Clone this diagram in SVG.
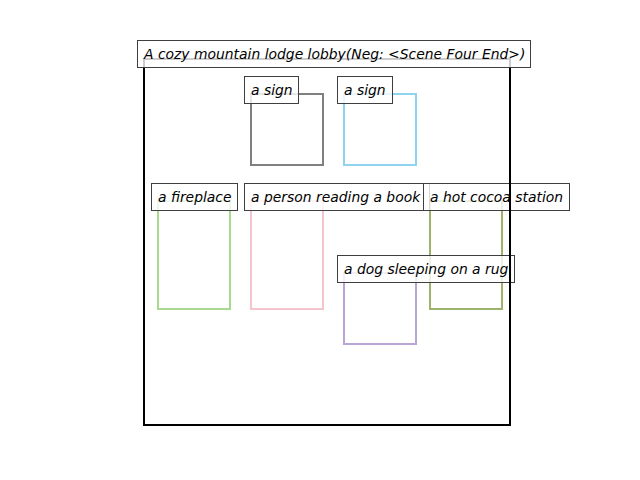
<svg xmlns="http://www.w3.org/2000/svg" width="640" height="480" viewBox="0 0 640 480">
<style>
.obj{fill:none;stroke-width:2}
.lbl{fill:#ffffff;fill-opacity:0.8;stroke:#3f3f3f;stroke-width:1}
.t{font-family:"DejaVu Sans",sans-serif;font-style:oblique;font-size:13.9px;fill:#000}
</style>
<rect width="640" height="480" fill="#ffffff"/>
<g id="sign1"><rect class="obj" x="251" y="94" width="72" height="71" stroke="#808080"/></g>
<g id="sign2"><rect class="obj" x="344" y="94" width="72" height="71" stroke="#8fd3ee"/></g>
<g id="fireplace"><rect class="obj" x="158" y="201" width="72" height="108" stroke="#a9d88f"/></g>
<g id="person"><rect class="obj" x="251" y="201" width="72" height="108" stroke="#f5c4cc"/></g>
<g id="cocoa"><rect class="obj" x="430" y="201" width="72" height="108" stroke="#9db36a"/></g>
<g id="dog"><rect class="obj" x="344" y="273" width="72" height="71" stroke="#baa6d6"/></g>
<g id="labels">
<g id="sign1-label"><rect class="lbl" x="244.5" y="76.5" width="54" height="27"/><text class="t" x="251" y="95">a sign</text></g>
<g id="sign2-label"><rect class="lbl" x="337.5" y="76.5" width="55" height="27"/><text class="t" x="344" y="95">a sign</text></g>
<g id="fireplace-label"><rect class="lbl" x="151.5" y="183.5" width="86" height="27"/><text class="t" x="158" y="202">a fireplace</text></g>
<g id="person-label"><rect class="lbl" x="244.5" y="183.5" width="185" height="27"/><text class="t" x="251" y="202">a person reading a book</text></g>
<g id="cocoa-label"><rect class="lbl" x="423.5" y="183.5" width="146" height="27"/><text class="t" x="430" y="202">a hot cocoa station</text></g>
<g id="dog-label"><rect class="lbl" x="337.5" y="255.5" width="177" height="27"/><text class="t" x="344" y="274">a dog sleeping on a rug</text></g>
</g>
<g id="scene"><rect x="144" y="59" width="366" height="366" fill="none" stroke="#000" stroke-width="2"/></g>
<g id="title"><rect class="lbl" x="137.5" y="40.5" width="393" height="27"/><text class="t" x="144" y="59">A cozy mountain lodge lobby(Neg: &lt;Scene Four End&gt;)</text></g>
</svg>
